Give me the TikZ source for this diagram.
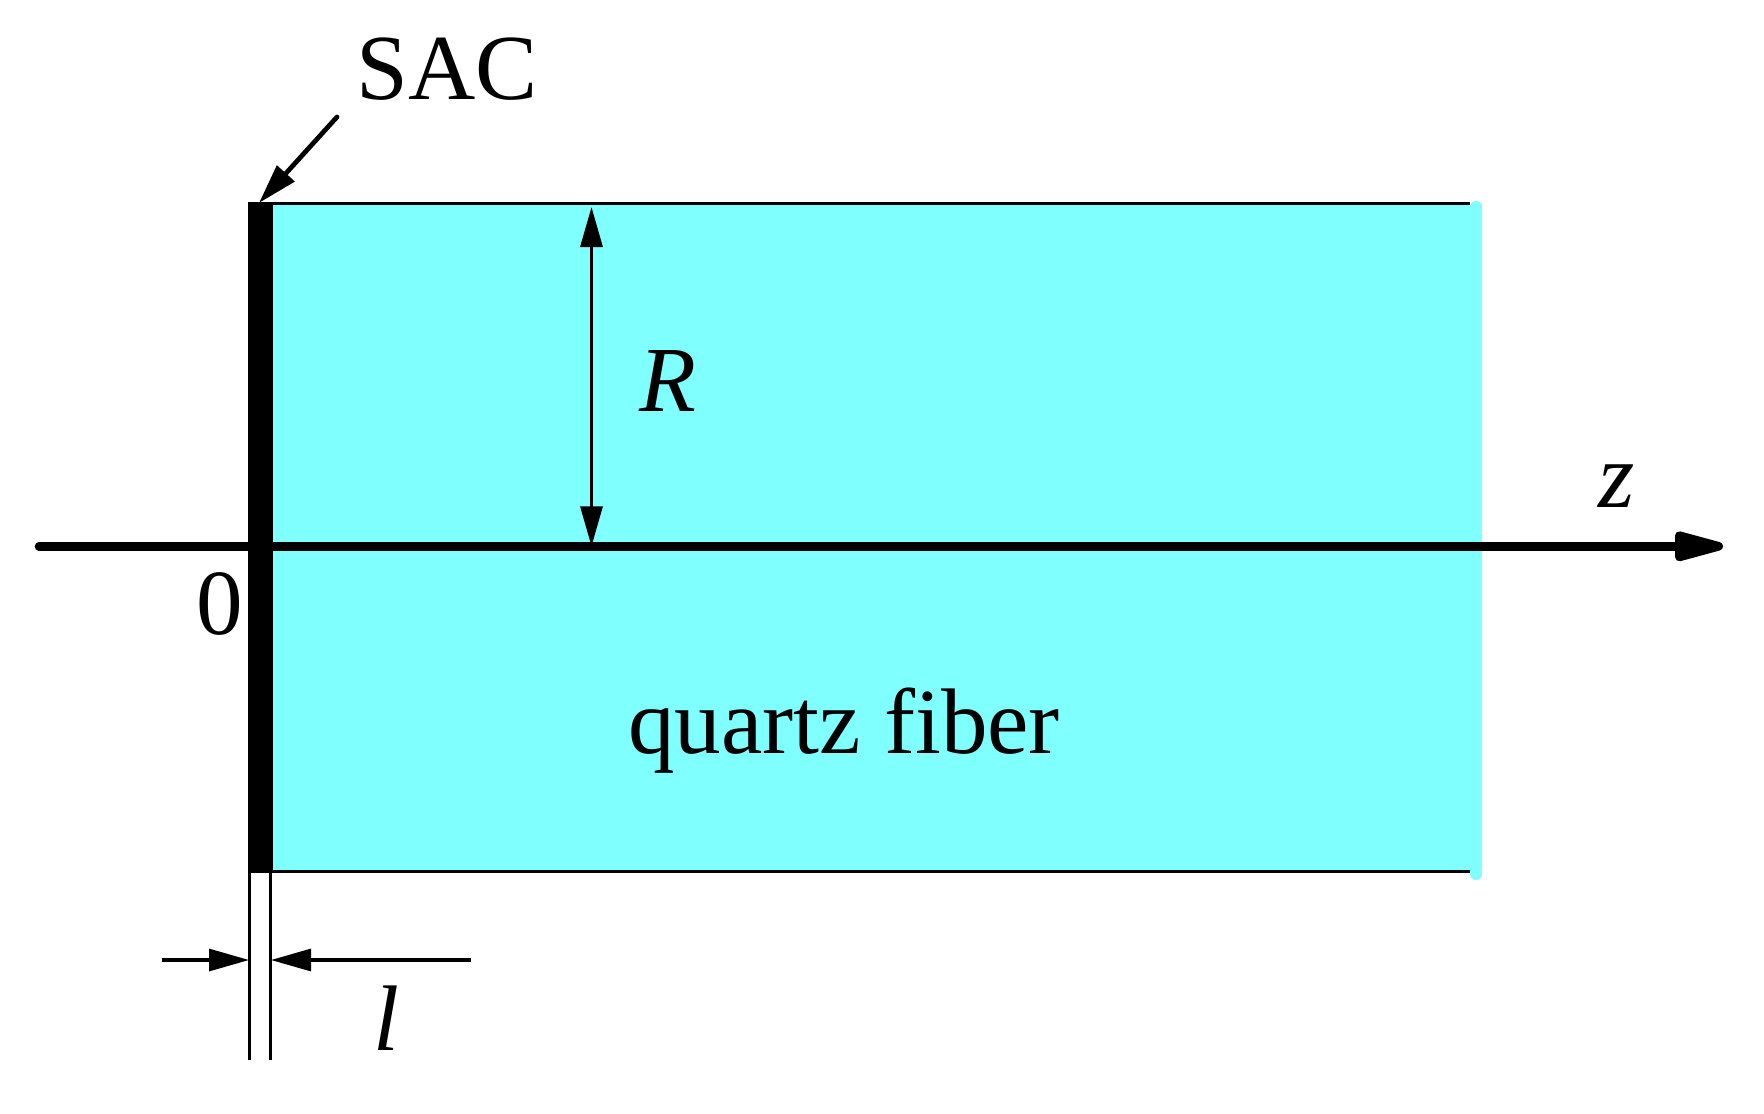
\documentclass[tikz,border=0pt]{standalone}
\usepackage{fontspec}
\setmainfont{Liberation Serif}
\usepackage{xcolor}
\usepackage{tikz}
\usetikzlibrary{arrows.meta}
\definecolor{quartz}{RGB}{128,255,255}
\tikzset{>=latex}
\tikzstyle{lbl} = [draw=none, inner sep=0pt, anchor=base, font=\fontsize{26.5}{30}\selectfont]
\tikzstyle{thin} = [line width=0.9pt]
\tikzstyle{thinarrow} = [line width=0.9pt, -{Triangle[length=0.40cm, width=0.22cm, sep=0pt]}]
\tikzstyle{axis} = [line width=2.45pt, line cap=round, -{Triangle[length=0.62cm, width=0.30cm, round]}]

\begin{document}
\begin{tikzpicture}
\useasboundingbox (0, 0) rectangle (17.64, 11.13);
% fiber body
\fill [quartz] (2.73, 9.095) rectangle (14.82, 2.415);
\draw [draw=quartz, line width=0.12cm, line cap=round] (14.76, 9.06) -- (14.76, 2.39);
\coordinate (TL) at (2.73, 9.095);
\coordinate (TR) at (14.70, 9.095);
\coordinate (BL) at (2.73, 2.415);
\coordinate (BR) at (14.70, 2.415);
\draw [thin] (TL) -- (TR);
\draw [thin] (BL) -- (BR);
% SAC layer
\fill [black] (2.48, 9.11) rectangle (2.73, 2.40);
% labels
\node [lbl] (SAC) at (4.475, 10.14) {SAC};
\node [lbl] (R) at (6.68, 7.02) {\textit{R}};
\node [lbl] (Z) at (16.17, 6.06) {\textit{z}};
\node [lbl] (O) at (2.20, 4.79) {0};
\node [lbl] (F) at (8.44, 3.60) {quartz fiber};
\node [lbl] (L) at (3.86, 0.63) {\textit{l}};
% axis
\coordinate (A0) at (0.39, 5.667);
\coordinate (A1) at (17.23, 5.667);
\draw [axis] (A0) -- (A1);
% radius
\coordinate (R0) at (5.915, 9.06);
\coordinate (R1) at (5.915, 5.667);
\draw [thinarrow, {Triangle[length=0.40cm, width=0.22cm, sep=0pt]}-{Triangle[length=0.40cm, width=0.22cm, sep=0pt]}] (R0) -- (R1);
% pointer
\coordinate (P0) at (3.37, 9.96);
\coordinate (P1) at (2.59, 9.10);
\draw [line width=1.35pt, line cap=round, -{Triangle[length=0.40cm, width=0.23cm, sep=0pt]}] (P0) -- (P1);
% thickness
\coordinate (D1) at (2.495, 2.40);
\coordinate (D2) at (2.495, 0.53);
\coordinate (D3) at (2.705, 2.40);
\coordinate (D4) at (2.705, 0.53);
\draw [thin] (D1) -- (D2);
\draw [thin] (D3) -- (D4);
\coordinate (E0) at (1.62, 1.53);
\coordinate (E1) at (2.49, 1.53);
\coordinate (E2) at (4.71, 1.53);
\coordinate (E3) at (2.71, 1.53);
\draw [thinarrow] (E0) -- (E1);
\draw [thinarrow] (E2) -- (E3);
\end{tikzpicture}
\end{document}
